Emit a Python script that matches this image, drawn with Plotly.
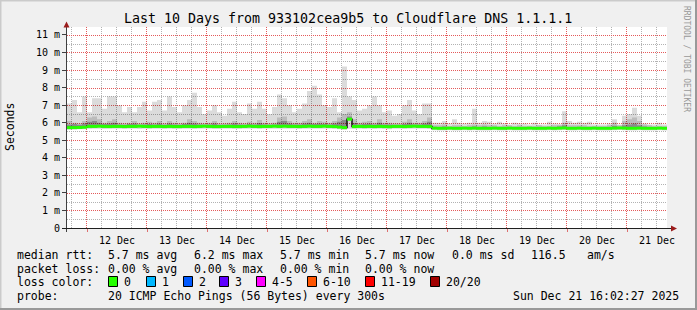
import plotly.graph_objects as go
import pandas as pd

# ---------------- data (values in milliseconds, 2-hour bins) ----------------
bin_start = "2025-12-11 16:00"
n_bins = 120

median_ms = [
    5.72, 5.72, 5.73, 5.74,
    5.79, 5.79, 5.80, 5.79, 5.78, 5.79, 5.79, 5.78, 5.79, 5.79, 5.80, 5.79, 5.78, 5.79, 5.79, 5.78,
    5.79, 5.78, 5.78, 5.79, 5.79, 5.78, 5.79, 5.80, 5.79, 5.78, 5.78, 5.79, 5.79, 5.78, 5.78, 5.79, 5.80, 5.79, 5.78, 5.79,
    5.79, 5.80, 5.79, 5.80, 5.79, 5.79, 5.78, 5.79, 5.80, 5.79, 5.79, 5.80, 5.79, 5.78, 5.75, 5.72, 6.20, 5.78, 5.79, 5.78,
    5.79, 5.78, 5.79, 5.78, 5.77, 5.79, 5.79, 5.78, 5.79, 5.80, 5.79, 5.79, 5.78,
    5.69, 5.68, 5.68, 5.69, 5.68, 5.68, 5.69, 5.68, 5.69, 5.68,
    5.68, 5.68, 5.69, 5.68, 5.68, 5.69, 5.68, 5.68, 5.68, 5.69,
    5.68, 5.68, 5.68, 5.69, 5.68, 5.69, 5.70, 5.68, 5.68, 5.69,
    5.68, 5.68, 5.69, 5.68, 5.68, 5.68, 5.69, 5.70, 5.69, 5.68,
    5.68, 5.69, 5.68, 5.68, 5.68, 5.69, 5.68,
]

max_ms = [
    7.1, 7.3, 6.6, 7.5, 6.6, 7.4, 7.4, 6.8, 7.5, 7.5,
    7.0, 6.6, 6.9, 6.6, 6.9, 7.2, 6.7, 7.2, 7.3, 6.7,
    7.5, 6.9, 6.6, 7.0, 7.3, 7.7, 6.9, 6.5, 6.7, 7.0,
    6.6, 6.4, 6.8, 7.2, 6.6, 6.5, 7.1, 6.8, 7.2, 6.8,
    6.5, 6.9, 7.6, 7.4, 7.0, 6.6, 6.8, 7.1, 7.8, 8.1,
    7.6, 7.0, 6.9, 7.4, 6.6, 9.2, 7.5, 7.3, 6.7, 6.8,
    7.0, 7.5, 7.0, 6.6, 6.7, 6.4, 6.5, 7.0, 7.3, 6.7,
    6.5, 7.1, 7.1, 6.0, 6.0, 6.1, 5.95, 6.2, 6.0, 5.95,
    6.0, 6.8, 6.0, 6.1, 6.05, 5.95, 6.05, 5.95, 5.9, 6.0,
    5.95, 5.95, 5.9, 6.0, 5.9, 5.9, 6.05, 5.95, 5.9, 6.65,
    6.1, 6.0, 6.05, 6.0, 6.05, 5.9, 5.9, 5.9, 5.95, 6.2,
    5.9, 6.4, 6.5, 6.85, 6.4, 5.95, 5.9, 5.9, 6.0, 5.9,
]

upper_ms = [
    6.1, 6.0, 5.95, 6.1, 6.3, 6.35, 6.2, 6.0, 6.1, 6.2,
    6.0, 5.95, 6.0, 6.1, 5.95, 6.0, 6.05, 6.0, 6.1, 5.95,
    6.1, 6.0, 5.95, 6.0, 6.2, 6.1, 6.0, 5.95, 6.0, 6.1,
    5.95, 5.95, 6.0, 6.1, 6.0, 5.95, 6.05, 6.0, 6.15, 6.0,
    5.95, 6.0, 6.3, 6.35, 6.1, 6.0, 6.0, 6.1, 6.2, 6.0,
    6.1, 6.05, 6.0, 6.1, 6.3, 6.5, 6.6, 6.2, 6.0, 6.05,
    6.1, 6.0, 6.2, 6.0, 6.0, 5.95, 5.95, 6.05, 6.2, 6.0,
    6.0, 6.1, 6.3,
    5.85, 5.85, 5.9, 5.8, 5.85, 5.85, 5.8, 5.85, 5.9, 5.85,
    5.9, 5.85, 5.85, 5.8, 5.85, 5.85, 5.8, 5.85, 5.8, 5.8,
    5.8, 5.85, 5.8, 5.8, 5.85, 5.9, 6.0, 5.85, 5.85, 5.85,
    5.85, 5.8, 5.8, 5.8, 5.8, 5.85, 6.0, 5.85, 6.1, 6.2,
    6.3, 6.1, 5.9, 5.85, 5.8, 5.8, 5.8,
]

core_ms = [
    5.9, 5.92, 5.88, 5.95, 6.05, 6.1, 6.0, 5.92, 5.95, 6.0,
    5.9, 5.88, 5.92, 5.95, 5.88, 5.9, 5.92, 5.9, 5.95, 5.88,
    5.95, 5.9, 5.88, 5.92, 6.0, 5.95, 5.9, 5.88, 5.9, 5.95,
    5.88, 5.88, 5.9, 5.95, 5.9, 5.88, 5.92, 5.9, 5.98, 5.9,
    5.88, 5.9, 6.05, 6.1, 5.95, 5.9, 5.9, 5.95, 6.0, 5.92,
    5.95, 5.92, 5.9, 5.95, 6.05, 6.15, 6.35, 5.98, 5.9, 5.92,
    5.95, 5.9, 6.0, 5.9, 5.9, 5.88, 5.88, 5.92, 6.0, 5.9,
    5.9, 5.95, 6.05,
    5.76, 5.76, 5.78, 5.75, 5.76, 5.76, 5.75, 5.76, 5.78, 5.76,
    5.78, 5.76, 5.76, 5.75, 5.76, 5.76, 5.75, 5.76, 5.75, 5.75,
    5.75, 5.76, 5.75, 5.75, 5.76, 5.78, 5.85, 5.76, 5.76, 5.76,
    5.76, 5.75, 5.75, 5.75, 5.75, 5.76, 5.82, 5.76, 5.85, 5.9,
    5.95, 5.85, 5.78, 5.76, 5.75, 5.75, 5.75,
]

min_ms = [
    5.60, 5.61, 5.62, 5.62, 5.64, 5.65, 5.65, 5.64, 5.65, 5.66,
    5.65, 5.64, 5.65, 5.65, 5.64, 5.65, 5.64, 5.65, 5.65, 5.64,
    5.65, 5.64, 5.64, 5.65, 5.65, 5.64, 5.65, 5.66, 5.65, 5.64,
    5.64, 5.65, 5.65, 5.64, 5.64, 5.65, 5.66, 5.65, 5.64, 5.65,
    5.65, 5.66, 5.65, 5.66, 5.65, 5.65, 5.64, 5.65, 5.66, 5.65,
    5.65, 5.66, 5.65, 5.64, 5.62, 5.60, 5.66, 5.64, 5.65, 5.64,
    5.65, 5.64, 5.65, 5.64, 5.63, 5.65, 5.65, 5.64, 5.65, 5.66,
    5.65, 5.65, 5.64,
    5.57, 5.56, 5.56, 5.57, 5.56, 5.56, 5.57, 5.56, 5.57, 5.56,
    5.56, 5.56, 5.57, 5.56, 5.56, 5.57, 5.56, 5.56, 5.56, 5.57,
    5.56, 5.56, 5.56, 5.57, 5.56, 5.57, 5.58, 5.56, 5.56, 5.57,
    5.56, 5.56, 5.57, 5.56, 5.56, 5.56, 5.57, 5.58, 5.57, 5.56,
    5.56, 5.57, 5.56, 5.56, 5.56, 5.57, 5.56,
]

y_tick_vals = [0, 1, 2, 3, 4, 5, 6, 7, 8, 9, 10, 11]
y_tick_text = ["0", "1 m", "2 m", "3 m", "4 m", "5 m", "6 m", "7 m", "8 m", "9 m", "10 m", "11 m"]
y_minor_step = 0.5
x_minor_hours = 6

title_text = "Last 10 Days from 933102cea9b5 to Cloudflare DNS 1.1.1.1"
row1 = ["median rtt:", "5.7 ms avg", "6.2 ms max", "5.7 ms min", "5.7 ms now", "0.0 ms sd", "116.5", "am/s"]
row2 = ["packet loss:", "0.00 % avg", "0.00 % max", "0.00 % min", "0.00 % now"]
loss_labels = ["0", "1", "2", "3", "4-5", "6-10", "11-19", "20/20"]
loss_colors = ["#26ff00", "#00b8ff", "#0059ff", "#5e00ff", "#ff00ff", "#ff5500", "#ff0000", "#a10000"]
probe_text = "20 ICMP Echo Pings (56 Bytes) every 300s"
date_text = "Sun Dec 21 16:02:27 2025"

for arr in (median_ms, max_ms, upper_ms, core_ms, min_ms):
    assert len(arr) == n_bins, len(arr)

# ---------------- figure ----------------
edges = pd.date_range(bin_start, periods=n_bins + 1, freq="2h")
xs = list(edges)
x_lo, x_hi = edges[0], edges[-1]
L, T, W, H = 67, 27, 600, 201
FIG_W, FIG_H = 697, 310
Y_MAX = H / 17.55


def stepped(vals):
    return list(vals) + [vals[-1]]


FONT = "DejaVu Sans Mono"
MGRID = "#e45a5a"
GRID = "#b2b2b2"
DASH = "1px,1px"
fig = go.Figure()


def band(lo, hi, color):
    fig.add_trace(go.Scatter(x=xs, y=stepped(lo), mode="lines", line=dict(width=0, shape="hv"),
                             hoverinfo="skip", showlegend=False))
    fig.add_trace(go.Scatter(x=xs, y=stepped(hi), mode="lines", line=dict(width=0, shape="hv"),
                             fill="tonexty", fillcolor=color, hoverinfo="skip", showlegend=False))


band(min_ms, max_ms, "rgba(0,0,0,0.14)")
band(median_ms, upper_ms, "rgba(0,0,0,0.14)")
band(median_ms, core_ms, "rgba(0,0,0,0.26)")

# thin dark median (visible only on vertical transitions)
fig.add_trace(go.Scatter(x=xs, y=stepped(median_ms), mode="lines",
                         line=dict(width=1.5, color="#111111", shape="hv"),
                         hoverinfo="skip", showlegend=False))
# green median (horizontal segments only)
gx, gy = [], []
for i, v in enumerate(median_ms):
    gx += [edges[i], edges[i + 1], None]
    gy += [v, v, None]
fig.add_trace(go.Scatter(x=gx, y=gy, mode="lines", line=dict(width=3, color=loss_colors[0]),
                         connectgaps=False, hoverinfo="skip", showlegend=False))


def PX(px):
    return (px - L) / W


def PY(py):
    return (T + H - py) / H


shapes = []

# ---- grid: dotted lines snapped to pixel centres ----
span_s = (x_hi - x_lo).total_seconds()
t = pd.Timestamp("2025-12-11 00:00")
while t <= x_hi:
    if t > x_lo:
        major = (t.hour == 0)
        xpix = L + (t - x_lo).total_seconds() / span_s * W
        xc = round(xpix) - 0.5
        shapes.append(dict(type="line", xref="paper", yref="paper", x0=PX(xc), x1=PX(xc), y0=0, y1=1,
                           layer="between", line=dict(color=MGRID if major else GRID, width=1, dash=DASH)))
    t += pd.Timedelta(hours=x_minor_hours)
yv = y_minor_step
while yv < Y_MAX:
    major = abs(yv - round(yv)) < 1e-9
    ypix = T + H - yv / Y_MAX * H
    yc = round(ypix) + 0.5
    shapes.append(dict(type="line", xref="paper", yref="paper", x0=0, x1=1, y0=PY(yc), y1=PY(yc),
                       layer="between", line=dict(color=MGRID if major else GRID, width=1, dash=DASH)))
    yv += y_minor_step

# outer frame
shapes.append(dict(type="line", xref="paper", yref="paper", x0=PX(0), x1=PX(FIG_W), y0=PY(0.75), y1=PY(0.75),
                   line=dict(color="#cbcbcb", width=1.5)))
shapes.append(dict(type="line", xref="paper", yref="paper", x0=PX(0.75), x1=PX(0.75), y0=PY(0), y1=PY(FIG_H),
                   line=dict(color="#cbcbcb", width=1.5)))
shapes.append(dict(type="line", xref="paper", yref="paper", x0=PX(0), x1=PX(FIG_W), y0=PY(FIG_H - 1), y1=PY(FIG_H - 1),
                   line=dict(color="#999999", width=2)))
shapes.append(dict(type="line", xref="paper", yref="paper", x0=PX(FIG_W - 1), x1=PX(FIG_W - 1), y0=PY(0), y1=PY(FIG_H),
                   line=dict(color="#999999", width=2)))
# axes lines + arrows
shapes.append(dict(type="line", xref="paper", yref="paper", x0=PX(66.5), x1=PX(66.5), y0=PY(232), y1=PY(25),
                   line=dict(color="#404040", width=1)))
shapes.append(dict(type="line", xref="paper", yref="paper", x0=PX(62), x1=PX(672), y0=PY(228.5), y1=PY(228.5),
                   line=dict(color="#202020", width=1)))
shapes.append(dict(type="path", xref="paper", yref="paper",
                   path=f"M {PX(63.5)} {PY(27.5)} L {PX(69.5)} {PY(27.5)} L {PX(66.5)} {PY(21.5)} Z",
                   line=dict(width=0), fillcolor="#9b1c1c"))
shapes.append(dict(type="path", xref="paper", yref="paper",
                   path=f"M {PX(671)} {PY(225.5)} L {PX(671)} {PY(231.5)} L {PX(677)} {PY(228.5)} Z",
                   line=dict(width=0), fillcolor="#9b1c1c"))

annotations = []


def text(px, py, s, size=11.5, anchor="left", color="#000000", angle=0):
    annotations.append(dict(xref="paper", yref="paper", x=PX(px), y=PY(py), text=s, showarrow=False,
                            xanchor=anchor, yanchor="middle", textangle=angle,
                            font=dict(family=FONT, size=size, color=color)))


text(348, 19, title_text, size=13.3, anchor="center")
text(10, 127, "Seconds", size=11.5, anchor="center", angle=-90)
text(687, 59, "RRDTOOL / TOBI OETIKER", size=8, anchor="center", color="#999999", angle=90)

row_y = [255, 268.5, 282, 295.5]
row1_x = [15, 106, 192, 278, 363, 450, 529, 585]
for s, x in zip(row1, row1_x):
    text(x, row_y[0], s)
row2_x = [15, 106, 192, 278, 363]
for s, x in zip(row2, row2_x):
    text(x, row_y[1], s)
text(15, row_y[2], "loss color:")
box_x = [108, 146, 183, 219, 256, 307, 365, 430]
for lab, col, bx in zip(loss_labels, loss_colors, box_x):
    shapes.append(dict(type="rect", xref="paper", yref="paper", x0=PX(bx + 0.5), x1=PX(bx + 9.5),
                       y0=PY(286.5), y1=PY(276.5), line=dict(color="#000000", width=1), fillcolor=col))
    text(bx + 14, row_y[2], lab)
text(15, row_y[3], "probe:")
text(106, row_y[3], probe_text)
text(681, row_y[3], date_text, anchor="right")

fig.update_layout(
    width=FIG_W, height=FIG_H,
    margin=dict(l=L, r=FIG_W - L - W, t=T, b=FIG_H - T - H, pad=0),
    paper_bgcolor="#f0f0f0", plot_bgcolor="#ffffff",
    showlegend=False,
    shapes=shapes, annotations=annotations,
    font=dict(family=FONT, size=10, color="#000000"),
)
fig.update_xaxes(
    type="date",
    range=[x_lo, x_hi],
    tick0="2025-12-12 00:00", dtick=86400000,
    tickformat="%d %b", ticklabelmode="period",
    showgrid=False,
    ticks="outside", ticklen=3, tickcolor="#de7070",
    showline=False, zeroline=False,
    tickfont=dict(family=FONT, size=10, color="#000000"),
    fixedrange=True,
)
fig.update_yaxes(
    range=[0, Y_MAX],
    tickvals=y_tick_vals, ticktext=y_tick_text,
    showgrid=False,
    ticks="outside", ticklen=4, tickcolor="#404040",
    showline=False, zeroline=False,
    tickfont=dict(family=FONT, size=10, color="#000000"),
    fixedrange=True,
)

fig.write_html("out.html")
